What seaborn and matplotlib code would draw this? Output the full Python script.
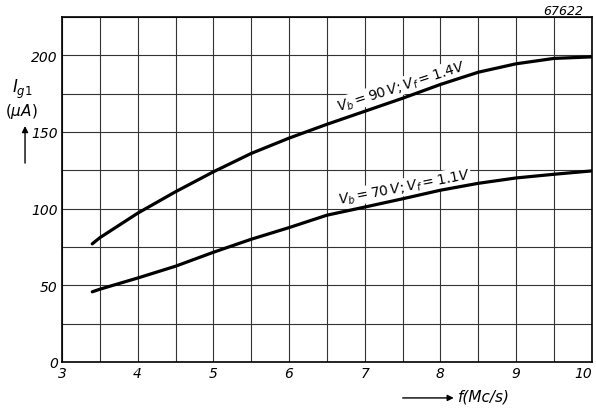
import matplotlib
matplotlib.use('Agg')
import matplotlib.pyplot as plt
import numpy as np
import pandas as pd
import seaborn as sns

# frequency (Mc/s)
freq = [3.4, 3.5, 4.0, 4.5, 5.0, 5.5, 6.0, 6.5, 7.0, 7.5, 8.0, 8.5, 9.0, 9.5, 10.0]
# grid current Ig1 (uA)
ig_90v = [77, 81, 97, 111, 124, 136, 146, 155, 163.5, 172, 181, 189, 194.5, 198, 199]
ig_70v = [45.7, 47.4, 54.7, 62.4, 71.5, 80, 87.6, 95.7, 101, 106.4, 112, 116.5, 120, 122.4, 124.6]

series_names = ['90V', '70V']
series_labels = [r'$V_b = 90\,V;V_f = 1.4V$', r'$V_b = 70\,V;V_f = 1.1V$']

x_ticks = [3, 4, 5, 6, 7, 8, 9, 10]
y_ticks = [0, 50, 100, 150, 200]

dat = pd.DataFrame({
    'f': freq * 2,
    'ig': ig_90v + ig_70v,
    'curve': [series_names[0]] * len(freq) + [series_names[1]] * len(freq),
})

sns.set_style('white')
plt.rcParams['font.family'] = ['DejaVu Sans']
plt.rcParams['mathtext.fontset'] = 'dejavusans'
plt.rcParams['text.color'] = 'black'
plt.rcParams['xtick.color'] = 'black'
plt.rcParams['ytick.color'] = 'black'

fig = plt.figure(figsize=(5.96, 4.10), dpi=100)
ax = fig.add_axes([0.104, 0.115, 0.889, 0.841])

# curves
sns.lineplot(data=dat, x='f', y='ig', hue='curve', palette=['black', 'black'],
             linewidth=2.3, legend=False, ax=ax, zorder=3)

ax.set_xlim(3, 10)
ax.set_ylim(0, 225)
ax.set_xticks(np.arange(3, 10.01, 0.5), minor=True)
ax.set_yticks(np.arange(0, 226, 25), minor=True)
ax.set_xticks(x_ticks)
ax.set_yticks(y_ticks)
ax.set_xticklabels([str(v) for v in x_ticks], fontsize=10, style='italic')
ax.set_yticklabels([str(v) for v in y_ticks], fontsize=10, style='italic')
ax.get_xticklabels()[-1].set_horizontalalignment('right')
ax.tick_params(which='both', length=0, pad=3)
ax.grid(which='both', color='#333333', linewidth=0.8)
ax.set_axisbelow(True)
for s in ax.spines.values():
    s.set_color('black')
    s.set_linewidth(1.2)
ax.set_xlabel('')
ax.set_ylabel('')

# curve labels
ax.text(7.49, 180, series_labels[0], rotation=18, ha='center', va='center',
        rotation_mode='anchor', fontsize=10, zorder=2.5,
        bbox=dict(facecolor='white', edgecolor='none', pad=0.5))
ax.text(7.52, 114, series_labels[1], rotation=11, ha='center', va='center',
        rotation_mode='anchor', fontsize=10, zorder=2.5,
        bbox=dict(facecolor='white', edgecolor='none', pad=0.5))

# axis titles
fig.text(0.037, 0.783, r'$I_{g1}$', ha='center', va='center', fontsize=12)
fig.text(0.036, 0.729, r'$(\mu A)$', ha='center', va='center', fontsize=11)
fig.add_artist(matplotlib.patches.FancyArrowPatch(
    (0.042, 0.593), (0.042, 0.697), transform=fig.transFigure,
    arrowstyle='-|>', mutation_scale=9, color='black', linewidth=1))

fig.add_artist(matplotlib.patches.FancyArrowPatch(
    (0.671, 0.027), (0.766, 0.027), transform=fig.transFigure,
    arrowstyle='-|>', mutation_scale=9, color='black', linewidth=1))
fig.text(0.768, 0.032, 'f(Mc/s)', ha='left', va='center', fontsize=11, style='italic')

fig.text(0.945, 0.971, '67622', ha='center', va='center', fontsize=9, style='italic')

fig.savefig('out.png', dpi=100)
